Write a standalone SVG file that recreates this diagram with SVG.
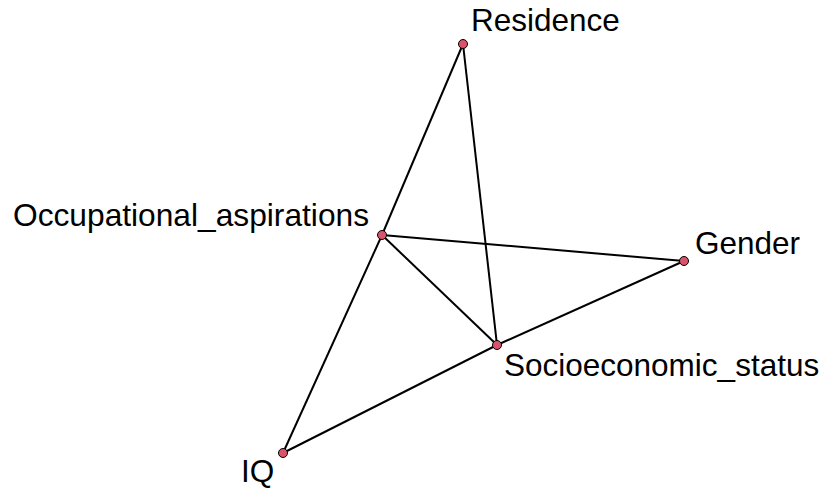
<svg xmlns="http://www.w3.org/2000/svg" width="827" height="489" viewBox="0 0 827 489">
<style>
.e{stroke:#000;stroke-width:2;fill:none}
.n{fill:#d9536a;stroke:#000;stroke-width:1}
.l{font-family:"Liberation Sans",Arial,sans-serif;font-size:31.5px;fill:#000}
</style>
<rect width="827" height="489" fill="#fff"/>
<g id="edges">
<line class="e" x1="463" y1="44" x2="382" y2="235"/>
<line class="e" x1="463" y1="44" x2="497" y2="345"/>
<line class="e" x1="382" y1="235" x2="684" y2="261"/>
<line class="e" x1="382" y1="235" x2="497" y2="345"/>
<line class="e" x1="382" y1="235" x2="283" y2="453"/>
<line class="e" x1="684" y1="261" x2="497" y2="345"/>
<line class="e" x1="497" y1="345" x2="283" y2="453"/>
</g>
<g id="Residence"><circle class="n" cx="463" cy="44" r="4.5"/><text class="l" x="471" y="31">Residence</text></g>
<g id="Occupational_aspirations"><circle class="n" cx="382" cy="235" r="4.5"/><text class="l" x="13" y="226" textLength="356" lengthAdjust="spacingAndGlyphs">Occupational_aspirations</text></g>
<g id="Gender"><circle class="n" cx="684" cy="261" r="4.5"/><text class="l" x="695" y="254">Gender</text></g>
<g id="Socioeconomic_status"><circle class="n" cx="497" cy="345" r="4.5"/><text class="l" x="504" y="376">Socioeconomic_status</text></g>
<g id="IQ"><circle class="n" cx="283" cy="453" r="4.5"/><text class="l" x="241" y="482">IQ</text></g>
</svg>
